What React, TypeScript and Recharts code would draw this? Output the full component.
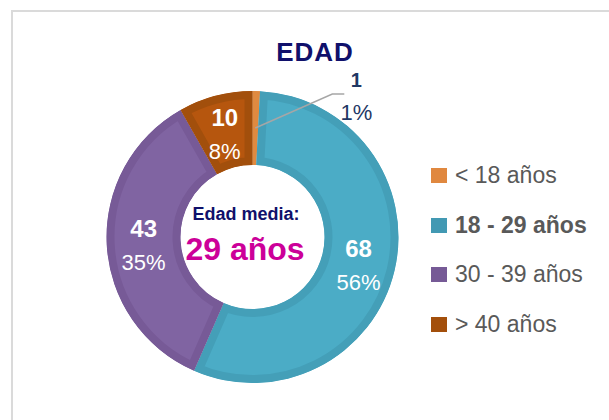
import { PieChart, Pie, Cell, Sector, Legend } from 'recharts';

const categories = ['< 18 años', '18 - 29 años', '30 - 39 años', '> 40 años'];
const counts = [1, 68, 43, 10];
const fills = ['#E08A40', '#4BACC6', '#8064A2', '#B6560E'];
const borders = ['#E08A40', '#449FB8', '#775A97', '#A24F0C'];
const legendColors = ['#E0883F', '#4299B3', '#765A96', '#A34F0B'];

const chartData = categories.map((name, i) => ({ name, value: counts[i] }));

const FONT = '"Liberation Sans", Arial, sans-serif';
const RADIAN = Math.PI / 180;

// sector with the border drawn inside its own outline (Excel-style)
function InsetSector(props: any) {
  const { cx, cy, innerRadius, outerRadius, startAngle, endAngle, fill, stroke } = props;
  const id = `inset-${Math.round(startAngle * 10)}`;
  return (
    <g>
      <defs>
        <clipPath id={id}>
          <Sector cx={cx} cy={cy} innerRadius={innerRadius} outerRadius={outerRadius} startAngle={startAngle} endAngle={endAngle} />
        </clipPath>
      </defs>
      <g clipPath={`url(#${id})`}>
        <Sector
          cx={cx}
          cy={cy}
          innerRadius={innerRadius}
          outerRadius={outerRadius}
          startAngle={startAngle}
          endAngle={endAngle}
          fill={fill}
          stroke={stroke}
          strokeWidth={16}
        />
      </g>
    </g>
  );
}

function renderLabel(props: any) {
  const { cx, cy, midAngle, innerRadius, outerRadius, percent, value, index } = props;
  const r = (innerRadius + outerRadius) / 2;
  const x = cx + r * Math.cos(-midAngle * RADIAN);
  const y = cy + r * Math.sin(-midAngle * RADIAN);
  const pct = `${Math.round(percent * 100)}%`;

  if (index === 0) {
    const ex = x + 77;
    const ey = y - 34;
    return (
      <g>
        <polyline points={`${x},${y} ${ex},${ey} ${ex + 12},${ey}`} fill="none" stroke="#A6A6A6" strokeWidth={1.5} />
        <text x={ex + 24} y={ey - 14} textAnchor="middle" dominantBaseline="central" fill="#1F3864" fontSize={20} fontWeight="bold" fontFamily={FONT}>
          {value}
        </text>
        <text x={ex + 24} y={ey + 18} textAnchor="middle" dominantBaseline="central" fill="#1F3864" fontSize={22} fontFamily={FONT}>
          {pct}
        </text>
      </g>
    );
  }

  return (
    <g>
      <text x={x} y={y - 14} textAnchor="middle" dominantBaseline="central" fill="#FFFFFF" fontSize={24} fontWeight="bold" fontFamily={FONT}>
        {value}
      </text>
      <text x={x} y={y + 20} textAnchor="middle" dominantBaseline="central" fill="#FFFFFF" fontSize={22} fontFamily={FONT}>
        {pct}
      </text>
    </g>
  );
}

function renderLegend() {
  return (
    <div style={{ fontFamily: FONT }}>
      {categories.map((name, i) => (
        <div key={name} style={{ display: 'flex', alignItems: 'center', height: 49.5 }}>
          <span style={{ width: 16, height: 15, background: legendColors[i], marginRight: 8, display: 'inline-block' }} />
          <span style={{ fontSize: 23, color: '#595959', fontWeight: i === 1 ? 'bold' : 'normal', whiteSpace: 'nowrap' }}>
            {name}
          </span>
        </div>
      ))}
    </div>
  );
}

export default function App() {
  return (
    <div style={{ position: 'absolute', left: 0, top: 0, width: 609, height: 420, overflow: 'hidden', background: '#fff' }}>
      <div style={{ position: 'absolute', left: 11, top: 10, width: 700, height: 500, borderLeft: '2px solid #DADADA', borderTop: '2px solid #DADADA' }} />
      <div style={{ position: 'absolute', left: 0, top: 0 }}>
        <PieChart width={609} height={420}>
          <text x={315} y={61} textAnchor="middle" fill="#10106B" fontSize={26} fontWeight="bold" fontFamily={FONT} letterSpacing={1}>
            EDAD
          </text>
          <Pie
            data={chartData}
            dataKey="value"
            nameKey="name"
            cx={247.5}
            cy={232}
            innerRadius={72}
            outerRadius={146}
            startAngle={90}
            endAngle={-270}
            shape={InsetSector}
            label={renderLabel}
            labelLine={false}
            isAnimationActive={false}
          >
            {chartData.map((d, i) => (
              <Cell key={d.name} fill={fills[i]} stroke={borders[i]} />
            ))}
          </Pie>
          <text x={246} y={220} textAnchor="middle" fill="#10106B" fontSize={18} fontWeight="bold" fontFamily={FONT}>
            Edad media:
          </text>
          <text x={245} y={260} textAnchor="middle" fill="#CC0099" fontSize={32} fontWeight="bold" fontFamily={FONT}>
            29 años
          </text>
          <Legend
            content={renderLegend}
            layout="vertical"
            wrapperStyle={{ position: 'absolute', left: 431, top: 151, width: 178 }}
          />
        </PieChart>
      </div>
    </div>
  );
}
